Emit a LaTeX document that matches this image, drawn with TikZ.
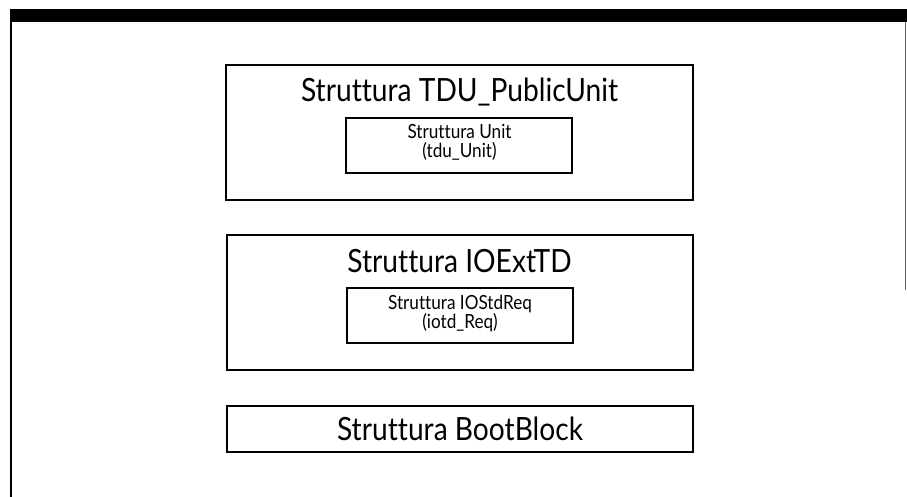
\documentclass[tikz,border=0pt]{standalone}
\usepackage{fontspec}
\newfontfamily\futfont[FakeStretch=0.88,Ligatures=NoCommon]{Lato}
\begin{document}
\begin{tikzpicture}[x=1pt,y=-1pt,
  outerbox/.style={draw=black,line width=2pt,minimum width=#1,inner sep=0pt},
  innerbox/.style={draw=black,line width=2.4pt,minimum width=226pt,minimum height=55pt,inner sep=0pt},
  bigtxt/.style={anchor=base,inner sep=0pt,font=\futfont\fontsize{32}{36}\selectfont},
  smalltxt/.style={anchor=base,inner sep=0pt,font=\futfont\fontsize{19.5}{22}\selectfont}]
\useasboundingbox (0,0) rectangle (907,497);
% frame
\fill[black] (10,9) rectangle (907,22);
\coordinate (lt) at (11,22);
\coordinate (lb) at (11,497);
\coordinate (rt) at (905.5,22);
\coordinate (rb) at (905.5,290);
\draw[line width=1.5pt] (lt) -- (lb);
\draw[line width=1pt,black!60] (rt) -- (rb);
% box 1
\node[outerbox=467pt,minimum height=135pt] (b1) at (459.5,132.5) {};
\node[bigtxt] (t1) at (459.5,102) {Struttura TDU\_PublicUnit};
\node[innerbox] (i1) at (459,145.5) {};
\node[smalltxt] (i1a) at (459.5,139) {Struttura Unit};
\node[smalltxt] (i1b) at (459.5,158) {(tdu\_Unit)};
% box 2
\node[outerbox=466pt,minimum height=135pt] (b2) at (460,302.5) {};
\node[bigtxt] (t2) at (459.5,272) {Struttura IOExtTD};
\node[innerbox] (i2) at (460,315.5) {};
\node[smalltxt] (i2a) at (460,309) {Struttura IOStdReq};
\node[smalltxt] (i2b) at (460,328) {(iotd\_Req)};
% box 3
\node[outerbox=466pt,minimum height=46pt] (b3) at (460,429) {};
\node[bigtxt] (t3) at (460,440) {Struttura BootBlock};
\end{tikzpicture}
\end{document}
